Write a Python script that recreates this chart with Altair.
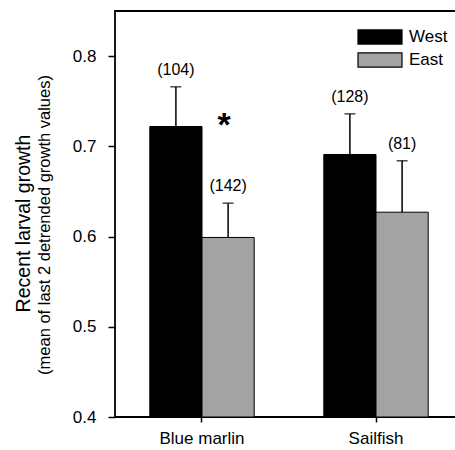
import altair as alt
import pandas as pd

species = ["Blue marlin", "Blue marlin", "Sailfish", "Sailfish"]
region = ["West", "East", "West", "East"]
mean = [0.722, 0.599, 0.691, 0.627]
upper = [0.766, 0.637, 0.736, 0.684]
n_label = ["(104)", "(142)", "(128)", "(81)"]

star_species = ["Blue marlin"]
star_region = ["East"]
star_y = [0.722]
star_text = ["*"]

subtitle = ["(mean of last 2 detrended growth values)"]
axis_floor = 0.4

df = pd.DataFrame(dict(species=species, region=region, mean=mean, upper=upper, n=n_label))
star_df = pd.DataFrame(dict(species=star_species, region=star_region, y=star_y, t=star_text))
sub_df = pd.DataFrame(dict(t=subtitle))

FONT = "Liberation Sans"

xs = alt.Scale(domain=["Blue marlin", "Sailfish"], paddingInner=0.4, paddingOuter=0.2)
x_axis = alt.Axis(title=None, labelFontSize=17, labelColor="black", labelPadding=8,
                  tickSize=5, tickColor="black", tickWidth=1.5, domain=False, labelAngle=0,
                  grid=False, labelFont=FONT)
ys = alt.Scale(domain=[axis_floor, 0.85], nice=False, zero=False)
y_axis = alt.Axis(values=[0.4, 0.5, 0.6, 0.7, 0.8], format=".1f", title="Recent larval growth",
                  titleFontSize=19.5, titleFontWeight="normal", titleColor="black", titleFont=FONT,
                  titleX=-92, titleY=212, titleAngle=270, titleBaseline="middle", titleAlign="center",
                  labelFontSize=17, labelColor="black", labelFont=FONT, labelPadding=12,
                  tickSize=7, tickColor="black", tickWidth=1.5, domain=False, grid=False)
xo = alt.XOffset("region:N", sort=["West", "East"], scale=alt.Scale(domain=["West", "East"]))

base = alt.Chart(df)

bars = base.mark_bar(stroke="black", strokeWidth=1).encode(
    x=alt.X("species:N", scale=xs, axis=x_axis),
    xOffset=xo,
    y=alt.Y("mean:Q", scale=ys, axis=y_axis),
    y2=alt.datum(axis_floor),
    color=alt.Color("region:N", sort=["West", "East"],
                    scale=alt.Scale(domain=["West", "East"], range=["#000000", "#a3a3a3"]),
                    legend=alt.Legend(title=None, orient="none", legendX=253, legendY=14,
                                      symbolType="M-2,-0.64L2,-0.64L2,0.64L-2,0.64Z",
                                      symbolSize=484, symbolStrokeColor="black",
                                      symbolStrokeWidth=1.2, labelFontSize=17, labelColor="black",
                                      labelFont=FONT, labelOffset=17, rowPadding=1, padding=0)),
)

rules = base.mark_rule(color="black", strokeWidth=1.5).encode(
    x=alt.X("species:N", scale=xs, axis=x_axis),
    xOffset=xo,
    y=alt.Y("mean:Q", scale=ys, axis=y_axis),
    y2="upper:Q",
)

caps = base.mark_tick(color="black", thickness=1.5, size=11).encode(
    x=alt.X("species:N", scale=xs, axis=x_axis),
    xOffset=xo,
    y=alt.Y("upper:Q", scale=ys, axis=y_axis),
)

labels = base.mark_text(fontSize=16, font=FONT, color="black", dy=-17, baseline="middle").encode(
    x=alt.X("species:N", scale=xs, axis=x_axis),
    xOffset=xo,
    y=alt.Y("upper:Q", scale=ys, axis=y_axis),
    text="n:N",
)

star = alt.Chart(star_df).mark_text(fontSize=34, font=FONT, fontWeight="bold", color="black",
                                    baseline="top", dx=-4, dy=-17).encode(
    x=alt.X("species:N", scale=xs, axis=x_axis),
    xOffset=alt.XOffset("region:N", sort=["West", "East"], scale=alt.Scale(domain=["West", "East"])),
    y=alt.Y("y:Q", scale=ys, axis=y_axis),
    text="t:N",
)

sub = alt.Chart(sub_df).mark_text(fontSize=16.5, font=FONT, color="black", angle=270,
                                  align="center", baseline="middle").encode(
    x=alt.value(-70),
    y=alt.value(214),
    text="t:N",
)

chart = alt.layer(bars, rules, caps, labels, star, sub).properties(
    width=348, height=406,
    padding={"left": 115, "top": 11, "right": -8, "bottom": 33},
    autosize="none",
).configure(font=FONT, background="white").configure_view(stroke="black", strokeWidth=1.8)

chart.save("out.html", embed_options={"renderer": "svg", "actions": False})
